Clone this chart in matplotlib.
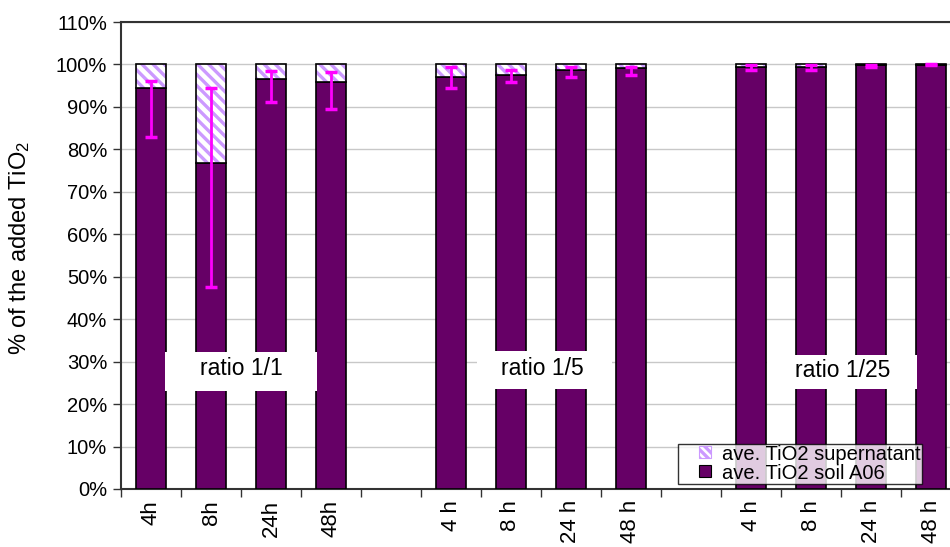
import numpy as np
import matplotlib
matplotlib.use("Agg")
import matplotlib.pyplot as plt
from matplotlib.patches import Patch, Rectangle
from matplotlib.legend_handler import HandlerPatch

plt.rcParams['font.family'] = ['Liberation Sans', 'DejaVu Sans']
plt.rcParams['mathtext.fontset'] = 'custom'
plt.rcParams['mathtext.rm'] = 'Liberation Sans'
plt.rcParams['mathtext.it'] = 'Liberation Sans'
plt.rcParams['hatch.linewidth'] = 2.4

# ==========================
# DATA (% of added TiO2)
# ==========================
labels = ["4h", "8h", "24h", "48h", "",
          "4 h", "8 h", "24 h", "48 h", "",
          "4 h", "8 h", "24 h", "48 h"]
soil = [94.5, 76.8, 96.6, 95.8, np.nan,
        97.1, 97.6, 98.7, 99.1, np.nan,
        99.5, 99.4, 99.8, 99.95]
err_hi = [96.2, 94.5, 98.5, 98.3, np.nan,
          99.5, 98.7, 99.3, 99.5, np.nan,
          99.9, 99.9, 99.9, 100.1]
err_lo = [82.8, 47.6, 91.2, 89.6, np.nan,
          94.4, 95.8, 97.0, 97.5, np.nan,
          98.8, 98.6, 99.4, 99.9]
group_names = ["ratio 1/1", "ratio 1/5", "ratio 1/25"]

soil = np.array(soil) / 100
err_hi = np.array(err_hi) / 100
err_lo = np.array(err_lo) / 100
sup = 1 - soil
x = np.arange(len(labels))
ok = ~np.isnan(soil)

SOIL_C = "#660066"
HATCH_C = "#CC99FF"
ERR_C = "#FF00FF"

# ==========================
# PLOT
# ==========================
fig = plt.figure(figsize=(9.5, 5.47), dpi=100)
ax = fig.add_axes([121 / 950, 1 - 489 / 547, 840 / 950, 467 / 547])

w = 0.5
ax.bar(x[ok], soil[ok], w, color=SOIL_C, edgecolor="black", linewidth=1.2, zorder=3)
ax.bar(x[ok], sup[ok], w, bottom=soil[ok], color="white", edgecolor=HATCH_C,
       hatch="\\\\\\", linewidth=0, zorder=3)
ax.bar(x[ok], sup[ok], w, bottom=soil[ok], fill=False, edgecolor="black",
       linewidth=1.2, zorder=3)

yerr = np.vstack([soil - err_lo, err_hi - soil])
ax.errorbar(x[ok], soil[ok], yerr=yerr[:, ok], fmt="none", ecolor=ERR_C,
            elinewidth=2, capsize=4, capthick=2.5, zorder=4)

ax.set_xlim(-0.5, len(labels) - 0.5)
ax.set_ylim(0, 1.1)
ax.set_yticks(np.arange(0, 1.11, 0.1))
ax.set_yticklabels([f"{v:.0f}%" for v in np.arange(0, 111, 10)], fontsize=14.5)
ax.yaxis.grid(True, color="#C8C8C8", linewidth=1, zorder=0)
ax.set_axisbelow(True)

ax.set_xticks(np.arange(-0.5, len(labels), 1.0))
ax.set_xticklabels([])
ax.set_xticks(x[ok], minor=True)
ax.set_xticklabels([labels[i] for i in x[ok]], minor=True, rotation=90, fontsize=16)
ax.tick_params(axis="x", which="minor", length=0, pad=8)
ax.tick_params(axis="both", which="major", length=6, width=1, color="#333333",
               direction="out")
ax.tick_params(axis="y", pad=4)

for s in ["left", "top", "bottom", "right"]:
    ax.spines[s].set_color("#333333")
    ax.spines[s].set_linewidth(1.5)

ax.set_ylabel("% of the added TiO$_2$", fontsize=17)
ax.yaxis.set_label_coords((32 - 121) / 840, 0.516)

# white label boxes over the bars (data coords)
boxes = [(0.233, 0.230, 2.534, 0.092), (5.433, 0.235, 2.25, 0.090), (10.267, 0.235, 2.5, 0.080)]
text_pos = [(1.508, 0.285), (6.525, 0.285), (11.525, 0.279)]
for (bx, by, bw, bh), (tx, ty), name in zip(boxes, text_pos, group_names):
    ax.add_patch(Rectangle((bx, by), bw, bh, facecolor="white", edgecolor="none", zorder=5))
    ax.text(tx, ty, name, ha="center", va="center", fontsize=16.5, zorder=6)


def small_square(legend, orig_handle, xdescent, ydescent, width, height, fontsize):
    s = 8.5
    return Rectangle((-xdescent + width - s, -ydescent + (height - s) / 2 + 0.5), s, s)


handles = [Patch(facecolor="white", edgecolor=HATCH_C, hatch="\\\\\\\\", linewidth=0.8),
           Patch(facecolor=SOIL_C, edgecolor="black", linewidth=0.8)]
leg = ax.legend(handles, ["ave. TiO2 supernatant", "ave. TiO2 soil A06"],
                loc="lower left", bbox_to_anchor=((678 - 121) / 840, (489 - 484) / 467),
                fontsize=14.5, frameon=True, fancybox=False, borderpad=0.05,
                handlelength=1.6, handleheight=0.7, handletextpad=0.55,
                labelspacing=0.0, borderaxespad=0,
                handler_map={Patch: HandlerPatch(patch_func=small_square)})
leg.get_frame().set_edgecolor("black")
leg.get_frame().set_linewidth(1)
leg.set_zorder(7)

fig.savefig("out.png", dpi=100)
